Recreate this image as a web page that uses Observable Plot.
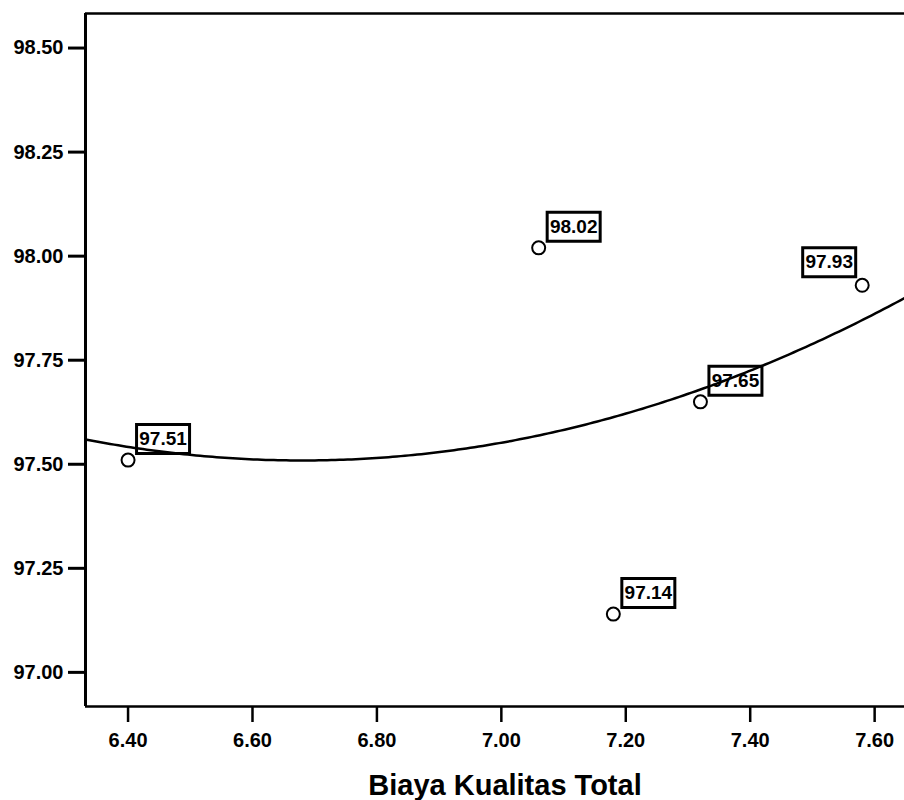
<!DOCTYPE html>
<html><head><meta charset="utf-8">
<script src="https://cdn.jsdelivr.net/npm/d3@7"></script>
<script src="https://cdn.jsdelivr.net/npm/@observablehq/plot@0.6"></script>
<style>
html,body{margin:0;padding:0;background:#fff;overflow:hidden}
#chart svg text{font-family:"Liberation Sans",Arial,sans-serif}
g[aria-label="y-axis tick"], g[aria-label="y-axis tick"] path{stroke-width:3px}
g[aria-label="x-axis tick"], g[aria-label="x-axis tick"] path{stroke-width:2.5px}
g[aria-label="y-axis"] .tick line{stroke-width:3px}
g[aria-label="x-axis"] .tick line{stroke-width:2.5px}
</style></head><body><div id="chart"></div>
<script>
// ---- data ----
const costX = [6.40, 7.06, 7.18, 7.32, 7.58];          // Biaya Kualitas Total
const qualityY = [97.51, 98.02, 97.14, 97.65, 97.93];   // observed values
const pointLabels = ["97.51", "98.02", "97.14", "97.65", "97.93"];
const xTicks = [6.40, 6.60, 6.80, 7.00, 7.20, 7.40, 7.60];
const yTicks = [97.00, 97.25, 97.50, 97.75, 98.00, 98.25, 98.50];
const xTitle = "Biaya Kualitas Total";
const xDomain = [6.3316, 7.648];
const yDomain = [96.918, 98.583];
const leftLabeled = ["97.93"];

const data = costX.map((x, i) => ({x, y: qualityY[i], label: pointLabels[i]}));

// quadratic least-squares fit (the curve in the reference)
function quadFit(xs, ys) {
  const n = xs.length;
  let s = [0,0,0,0,0], t = [0,0,0];
  for (let i = 0; i < n; i++) {
    let p = 1;
    for (let k = 0; k <= 4; k++) { s[k] += p; if (k <= 2) t[k] += p * ys[i]; p *= xs[i]; }
  }
  const A = [[s[0], s[1], s[2], t[0]], [s[1], s[2], s[3], t[1]], [s[2], s[3], s[4], t[2]]];
  for (let c = 0; c < 3; c++) {
    for (let r = c + 1; r < 3; r++) {
      const f = A[r][c] / A[c][c];
      for (let k = c; k < 4; k++) A[r][k] -= f * A[c][k];
    }
  }
  const b = [0,0,0];
  for (let r = 2; r >= 0; r--) {
    let v = A[r][3];
    for (let k = r + 1; k < 3; k++) v -= A[r][k] * b[k];
    b[r] = v / A[r][r];
  }
  return x => b[0] + b[1] * x + b[2] * x * x;
}
const f = quadFit(costX, qualityY);
const fitLine = d3.range(0, 201).map(i => {
  const x = xDomain[0] + (xDomain[1] - xDomain[0]) * i / 200;
  return {x, y: f(x)};
});

const boxSymbol = {draw(ctx) { ctx.rect(-26.5, -14.5, 53, 29); }};

const chart = Plot.plot({
  width: 904,
  height: 800,
  marginLeft: 85,
  marginRight: 0,
  marginTop: 13,
  marginBottom: 94,
  style: {fontSize: "20px", fontWeight: "bold", fontFamily: "'Liberation Sans', Arial, sans-serif", color: "black", background: "white"},
  x: {domain: xDomain, ticks: xTicks, tickFormat: d3.format(".2f"), tickSize: 16, tickPadding: 10, label: null},
  y: {domain: yDomain, ticks: yTicks, tickFormat: d3.format(".2f"), tickSize: 17, tickPadding: 5, label: null},
  marks: [
    Plot.ruleY([yDomain[1]], {stroke: "black", strokeWidth: 2.5}),
    Plot.ruleY([yDomain[0]], {stroke: "black", strokeWidth: 2.5}),
    Plot.ruleX([xDomain[0]], {stroke: "black", strokeWidth: 3}),
    Plot.dot(data, {filter: d => !leftLabeled.includes(d.label), x: "x", y: "y", symbol: boxSymbol, r: 10, fill: "white", stroke: "black", strokeWidth: 3, dx: 35, dy: -21}),
    Plot.dot(data, {filter: d => leftLabeled.includes(d.label), x: "x", y: "y", symbol: boxSymbol, r: 10, fill: "white", stroke: "black", strokeWidth: 3, dx: -33, dy: -23}),
    Plot.text(data, {filter: d => !leftLabeled.includes(d.label), x: "x", y: "y", text: "label", dx: 35, dy: -21, fontSize: 19, fontWeight: "bold", fill: "black"}),
    Plot.text(data, {filter: d => leftLabeled.includes(d.label), x: "x", y: "y", text: "label", dx: -33, dy: -23, fontSize: 19, fontWeight: "bold", fill: "black"}),
    Plot.line(fitLine, {x: "x", y: "y", stroke: "black", strokeWidth: 2.5}),
    Plot.dot(data, {x: "x", y: "y", r: 6.5, fill: "white", stroke: "black", strokeWidth: 2}),
    Plot.text([xTitle], {frameAnchor: "bottom", dx: 10, dy: 79, lineAnchor: "middle", fontSize: 29, fontWeight: "bold", fill: "black"})
  ]
});
document.getElementById("chart").appendChild(chart);
</script></body></html>
